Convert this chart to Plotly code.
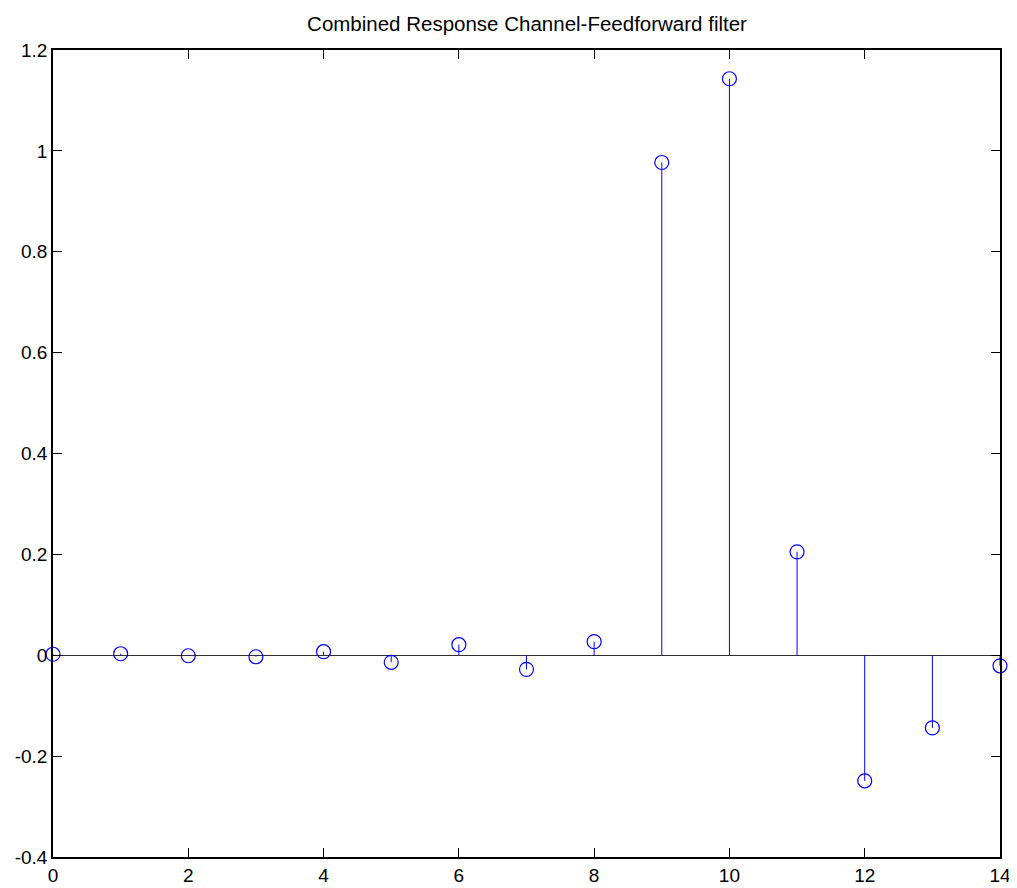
import plotly.graph_objects as go

n = list(range(15))
h = [0.002, 0.003, -0.001, -0.003, 0.007, -0.014, 0.021, -0.028, 0.027,
     0.977, 1.143, 0.205, -0.249, -0.144, -0.021]

title = "Combined Response Channel-Feedforward filter"
x_ticks = [0, 2, 4, 6, 8, 10, 12, 14]
y_ticks = [-0.4, -0.2, 0, 0.2, 0.4, 0.6, 0.8, 1, 1.2]
y_ticklabels = ["-0.4", "-0.2", "0", "0.2", "0.4", "0.6", "0.8", "1", "1.2"]

up = [max(-v, 0) for v in h]     # error bar upward (for negative values)
down = [max(v, 0) for v in h]    # error bar downward (for positive values)

fig = go.Figure()
fig.add_trace(go.Scatter(
    x=n, y=h, mode="markers",
    marker=dict(symbol="circle-open", size=14, color="#0000FF", line=dict(width=1.2, color="#0000FF")),
    error_y=dict(type="data", symmetric=False, array=up, arrayminus=down,
                 color="#0000FF", thickness=1, width=0),
    showlegend=False, cliponaxis=False,
))

axis_common = dict(
    showline=True, linecolor="black", linewidth=1.5, mirror="ticks",
    ticks="inside", ticklen=9, tickcolor="black", tickwidth=1,
    showgrid=False, automargin=False,
    tickfont=dict(family="Liberation Sans, Arial, sans-serif", size=19, color="black"),
)

fig.update_xaxes(range=[0, 14], tickvals=x_ticks, zeroline=False, **axis_common)
fig.update_yaxes(range=[-0.4, 1.2], tickvals=y_ticks, ticktext=y_ticklabels,
                 zeroline=True, zerolinecolor="#303030", zerolinewidth=1.2, **axis_common)

W, H = 1009, 880
fig.update_layout(
    width=W, height=H,
    margin=dict(l=45, r=17, t=42, b=31, autoexpand=False),
    paper_bgcolor="white", plot_bgcolor="white",
    title=dict(text=title, x=519 / W, xanchor="center", y=1 - 16 / H, yanchor="middle",
               font=dict(family="Liberation Sans, Arial, sans-serif", size=20.5, color="black")),
)

fig.write_html("out.html")
